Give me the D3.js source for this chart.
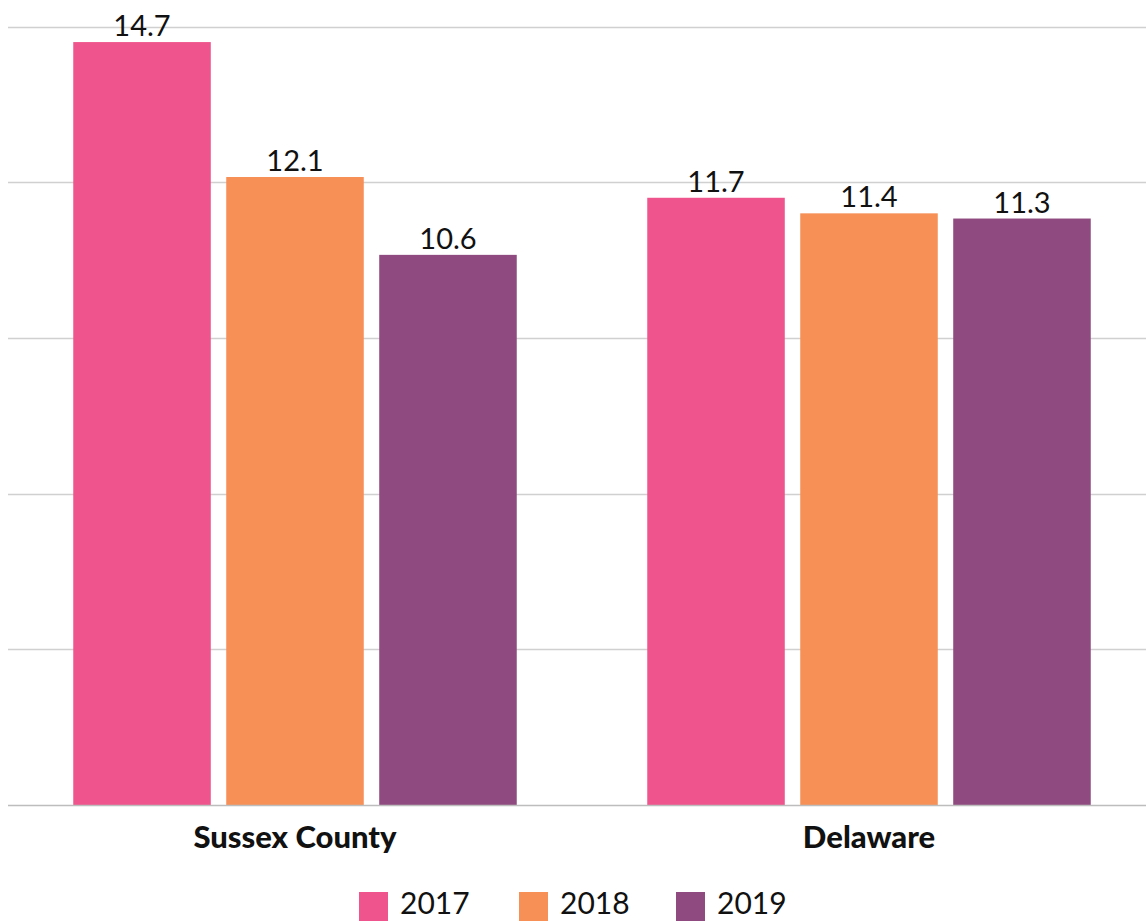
<!DOCTYPE html>
<html>
<head>
<meta charset="utf-8">
<script src="https://cdn.jsdelivr.net/npm/d3@7"></script>
<style>
  html, body { margin: 0; padding: 0; background: #fff; }
  svg { display: block; }
</style>
</head>
<body>
<svg id="chart" width="1146" height="921"></svg>
<script>
const categories = ["Sussex County", "Delaware"];
const years = ["2017", "2018", "2019"];
const values2017 = [14.7, 11.7];
const values2018 = [12.1, 11.4];
const values2019 = [10.6, 11.3];
const yTicks = [0, 3, 6, 9, 12, 15];
const colors = ["#ef558c", "#f69056", "#8f4b80"];

const seriesValues = [values2017, values2018, values2019];
const data = categories.map((c, i) => ({
  category: c,
  values: years.map((y, j) => ({ year: y, value: seriesValues[j][i] }))
}));

const svg = d3.select("#chart");
const W = 1146;
const plotLeft = 8, plotRight = 1156, baseY = 805, topY = 26.5;

const x0 = d3.scaleBand().domain(categories).range([plotLeft, plotRight]).padding(0);
const x1 = d3.scaleBand().domain(years).range([0, x0.bandwidth()])
  .paddingInner(0.101).paddingOuter(0.4265);
const y = d3.scaleLinear().domain([0, 15]).range([baseY, topY]);
const color = d3.scaleOrdinal().domain(years).range(colors);

// gridlines
svg.append("g").selectAll("line").data(yTicks.filter(t => t > 0)).join("line")
  .attr("x1", plotLeft).attr("x2", W)
  .attr("y1", d => Math.round(y(d)) + 0.5).attr("y2", d => Math.round(y(d)) + 0.5)
  .attr("stroke", "#d0d0d0").attr("stroke-width", 1.3);

// bars
const groups = svg.append("g").selectAll("g").data(data).join("g")
  .attr("transform", d => `translate(${x0(d.category)},0)`);

groups.selectAll("rect").data(d => d.values).join("rect")
  .attr("x", d => x1(d.year))
  .attr("width", x1.bandwidth())
  .attr("y", d => y(d.value))
  .attr("height", d => y(0) - y(d.value))
  .attr("fill", d => color(d.year));

groups.selectAll("text.val").data(d => d.values).join("text")
  .attr("class", "val")
  .attr("x", d => x1(d.year) + x1.bandwidth() / 2)
  .attr("y", d => y(d.value) - 6)
  .attr("text-anchor", "middle")
  .attr("font-family", "Lato, sans-serif")
  .attr("font-size", 29)
  .attr("fill", "#111")
  .text(d => d3.format(".1f")(d.value));

// baseline
svg.append("line").attr("x1", plotLeft).attr("x2", W)
  .attr("y1", baseY + 0.5).attr("y2", baseY + 0.5)
  .attr("stroke", "#bdbdbd").attr("stroke-width", 1.5);

// category labels
const xAxis = d3.axisBottom(x0).tickSize(0).tickPadding(0);
const ax = svg.append("g").attr("transform", `translate(0,${baseY})`).call(xAxis);
ax.select(".domain").remove();
ax.selectAll("text")
  .attr("y", 43)
  .attr("dy", 0)
  .attr("font-family", "Lato, sans-serif")
  .attr("font-weight", 900)
  .attr("font-size", 31)
  .attr("fill", "#111");

// legend
const legendItems = [
  { year: "2017", x: 359 },
  { year: "2018", x: 519 },
  { year: "2019", x: 676 }
];
const lg = svg.append("g").selectAll("g").data(legendItems).join("g")
  .attr("transform", d => `translate(${d.x},892)`);
lg.append("rect").attr("width", 29).attr("height", 29).attr("fill", d => color(d.year));
lg.append("text").attr("x", 41).attr("y", 22)
  .attr("font-family", "Lato, sans-serif").attr("font-size", 30).attr("fill", "#111")
  .text(d => d.year);
</script>
</body>
</html>
